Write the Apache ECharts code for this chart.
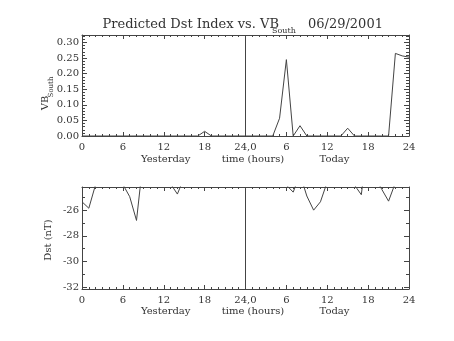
<!DOCTYPE html>
<html>
<head>
<meta charset="utf-8">
<script src="https://cdn.jsdelivr.net/npm/echarts@6/dist/echarts.min.js"></script>
<style>
html,body{margin:0;padding:0;background:#fff;}
#c{width:454px;height:341px;}
</style>
</head>
<body>
<div id="c"></div>
<script>
// ---- data ----
const hours = [0,1,2,3,4,5,6,7,8,9,10,11,12,13,14,15,16,17,18,19,20,21,22,23,
               24,25,26,27,28,29,30,31,32,33,34,35,36,37,38,39,40,41,42,43,44,45,46,47,48];
const xTickLabels = ['0','6','12','18','24,0','6','12','18','24'];
const vbSouth = [0,0,0,0,0,0,0,0,0,0,0,0,0,0,0,0,0,0,0.015,0,0,0,0,0,
                 0,0,0,0,0,0.057,0.245,0,0.033,0,0,0,0,0,0,0.025,0,0,0,0,0,0,0.265,0.257,0.253];
const dst = [-25.35,-25.85,-24.0,-23.6,-23.4,-23.5,-24.0,-24.95,-26.8,-22.0,-22.8,-23.3,-23.6,-23.95,-24.75,-23.45,
             -23.3,-23.2,-23.3,-23.4,-23.5,-23.6,-23.5,-23.4,
             -23.3,-23.2,-23.3,-23.5,-23.7,-23.9,-24.05,-24.6,-23.2,-24.9,-26.0,-25.35,-23.8,-23.5,-23.4,-23.5,
             -24.05,-24.8,-20.5,-23.45,-24.38,-25.3,-23.87,-23.5,-23.4];
const dayLabels = ['Yesterday','time (hours)','Today'];

const FONT = '"DejaVu Serif", serif';
const LC = '#444';
const TC = '#333';

function xAxes(grid){
  const base = {
    type:'value', gridIndex:grid, min:0, max:48, interval:6,
    axisLine:{show:true, onZero:false, lineStyle:{color:LC,width:1}},
    axisTick:{show:true, inside:true, length:4, lineStyle:{color:LC}},
    minorTick:{show:true, splitNumber:6, length:2, lineStyle:{color:LC}},
    splitLine:{show:false}
  };
  return [
    Object.assign({}, base, {position:'bottom',
      axisLabel:{show:true, margin:6, color:TC, fontFamily:FONT, fontSize:10,
        formatter:(v)=>xTickLabels[Math.round(v/6)]}}),
    Object.assign({}, base, {position:'top', axisLabel:{show:false}})
  ];
}
function yAxes(grid, opts, minorSplit, fmt, hideMin){
  const base = Object.assign({
    type:'value', gridIndex:grid,
    axisLine:{show:true, onZero:false, lineStyle:{color:LC,width:1}},
    axisTick:{show:true, inside:true, length:5, lineStyle:{color:LC}},
    minorTick:{show:true, splitNumber:minorSplit, length:3, lineStyle:{color:LC}},
    splitLine:{show:false}
  }, opts);
  return [
    Object.assign({}, base, {position:'left',
      axisLabel:{show:true, margin:3, color:TC, fontFamily:FONT, fontSize:10,
        showMinLabel: !hideMin, showMaxLabel:false, formatter:fmt}}),
    Object.assign({}, base, {position:'right', axisLabel:{show:false}})
  ];
}

const chart = echarts.init(document.getElementById('c'), null, {renderer:'canvas'});
const g1 = {left:82, top:35, width:327, height:101};
const g2 = {left:82, top:187, width:327, height:102};

const option = {
  animation:false,
  backgroundColor:'#fff',
  grid:[g1, g2],
  xAxis:[...xAxes(0), ...xAxes(1)],
  yAxis:[
    ...yAxes(0, {min:0, max:0.324, interval:0.05}, 5, (v)=>v.toFixed(2), false),
    ...yAxes(1, {min:-32.13, max:-24.2, splitNumber:4}, 2, (v)=>String(Math.round(v)), true)
  ],
  series:[
    {type:'line', xAxisIndex:0, yAxisIndex:0, data:hours.map((h,i)=>[h,vbSouth[i]]),
     showSymbol:false, symbol:'none', clip:true, lineStyle:{color:LC,width:1},
     markLine:{silent:true, symbol:'none', label:{show:false}, lineStyle:{color:LC,width:1,type:'solid'},
       data:[{xAxis:24}]}},
    {type:'line', xAxisIndex:2, yAxisIndex:2, data:hours.map((h,i)=>[h,dst[i]]),
     showSymbol:false, symbol:'none', clip:true, lineStyle:{color:LC,width:1},
     markLine:{silent:true, symbol:'none', label:{show:false}, lineStyle:{color:LC,width:1,type:'solid'},
       data:[{xAxis:24}]}}
  ],
  graphic:[
    {type:'text', x:279, y:25, style:{text:'Predicted Dst Index vs. VB', font:'13px '+FONT, fill:TC, align:'right', verticalAlign:'middle'}},
    {type:'text', x:272, y:31, style:{text:'South', font:'8px '+FONT, fill:TC, align:'left', verticalAlign:'middle'}},
    {type:'text', x:308, y:25, style:{text:'06/29/2001', font:'13px '+FONT, fill:TC, align:'left', verticalAlign:'middle'}},
    {type:'text', x:165.7, y:159, style:{text:dayLabels[0], font:'10px '+FONT, fill:TC, align:'center', verticalAlign:'middle'}},
    {type:'text', x:253, y:159, style:{text:dayLabels[1], font:'10px '+FONT, fill:TC, align:'center', verticalAlign:'middle'}},
    {type:'text', x:334.5, y:159, style:{text:dayLabels[2], font:'10px '+FONT, fill:TC, align:'center', verticalAlign:'middle'}},
    {type:'text', x:165.7, y:311.7, style:{text:dayLabels[0], font:'10px '+FONT, fill:TC, align:'center', verticalAlign:'middle'}},
    {type:'text', x:253, y:311.7, style:{text:dayLabels[1], font:'10px '+FONT, fill:TC, align:'center', verticalAlign:'middle'}},
    {type:'text', x:334.5, y:311.7, style:{text:dayLabels[2], font:'10px '+FONT, fill:TC, align:'center', verticalAlign:'middle'}},
    {type:'text', x:45, y:103, rotation:Math.PI/2, style:{text:'VB', font:'10px '+FONT, fill:TC, align:'center', verticalAlign:'middle'}},
    {type:'text', x:51, y:87, rotation:Math.PI/2, style:{text:'South', font:'7px '+FONT, fill:TC, align:'center', verticalAlign:'middle'}},
    {type:'text', x:48, y:240, rotation:Math.PI/2, style:{text:'Dst (nT)', font:'10px '+FONT, fill:TC, align:'center', verticalAlign:'middle'}}
  ]
};
chart.setOption(option);
</script>
</body>
</html>
